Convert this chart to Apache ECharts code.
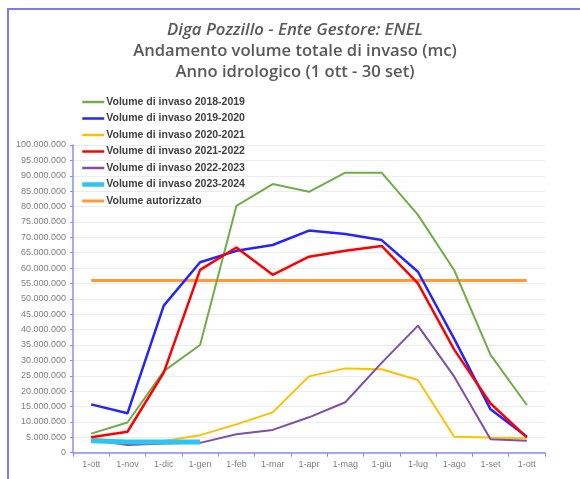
<!DOCTYPE html>
<html><head><meta charset="utf-8">
<script src="https://cdn.jsdelivr.net/npm/echarts@6/dist/echarts.min.js"></script>
<style>
html,body{margin:0;padding:0;background:#fff;}
#wrap{position:relative;width:580px;height:479px;overflow:hidden;}
#frame{position:absolute;left:7px;top:8px;width:600px;height:500px;border-top:2px solid #7a7af4;border-left:2px solid #7a7af4;box-sizing:border-box;}
#chart{position:absolute;left:0;top:0;width:580px;height:479px;}
</style></head>
<body><div id="wrap"><div id="frame"></div><div id="chart"></div></div>
<script>
const categories = ['1-ott','1-nov','1-dic','1-gen','1-feb','1-mar','1-apr','1-mag','1-giu','1-lug','1-ago','1-set','1-ott'];
const yTicks = [0,5000000,10000000,15000000,20000000,25000000,30000000,35000000,40000000,45000000,50000000,55000000,60000000,65000000,70000000,75000000,80000000,85000000,90000000,95000000,100000000];
const v2018 = [6200000, 9800000, 26500000, 35000000, 80200000, 87300000, 84800000, 91000000, 91000000, 77300000, 59300000, 31800000, 15500000];
const v2019 = [15700000, 12800000, 47800000, 61900000, 65600000, 67500000, 72200000, 71100000, 69100000, 58800000, 37000000, 14100000, 5200000];
const v2020 = [4600000, 3600000, 3800000, 5700000, 9200000, 13100000, 24800000, 27400000, 27100000, 23600000, 5200000, 4900000, 4700000];
const v2021 = [5000000, 6800000, 26000000, 59400000, 66700000, 57800000, 63700000, 65600000, 67200000, 55000000, 33500000, 16000000, 5000000];
const v2022 = [4200000, 2500000, 3000000, 3200000, 6000000, 7400000, 11500000, 16400000, 29200000, 41300000, 24700000, 4400000, 3900000];
const v2023 = [3900000, 3500000, 3500000, 3500000, null, null, null, null, null, null, null, null, null];
const vAut = [56000000, 56000000, 56000000, 56000000, 56000000, 56000000, 56000000, 56000000, 56000000, 56000000, 56000000, 56000000, 56000000];
const names = ['Volume di invaso 2018-2019','Volume di invaso 2019-2020','Volume di invaso 2020-2021','Volume di invaso 2021-2022','Volume di invaso 2022-2023','Volume di invaso 2023-2024','Volume autorizzato'];
const colors = ['#70ad47','#2424ff','#ffc000','#ff0000','#7e4fa6','#2ec4f2','#ff9a3c'];
const widths = [2,2.5,2,2.5,2,5,3];
const values = [v2018,v2019,v2020,v2021,v2022,v2023,vAut];

function fmt(n){ return String(n).replace(/\B(?=(\d{3})+(?!\d))/g,'.'); }

const chart = echarts.init(document.getElementById('chart'), null, {renderer:'canvas'});
const series = names.map((n,i)=>({
  name:n, type:'line', data:values[i], symbol:'none', smooth:false,
  lineStyle:{color:colors[i], width:widths[i]}, itemStyle:{color:colors[i]},
  z: i===6 ? 1 : (i===5 ? 3 : 2),
  connectNulls:false, animation:false
}));
chart.setOption({
  animation:false,
  color:colors,
  title:{
    text:'{a|Diga Pozzillo - Ente Gestore: ENEL}\n{b|Andamento volume totale di invaso (mc)}\n{b|Anno idrologico (1 ott - 30 set)}',
    left:295, top:19.5, textAlign:'center', padding:0,
    textStyle:{
      rich:{
        a:{fontFamily:'Open Sans',fontSize:16.8,fontStyle:'italic',fontWeight:600,color:'#595959',lineHeight:21,align:'center'},
        b:{fontFamily:'Open Sans',fontSize:16.6,fontWeight:600,color:'#595959',lineHeight:21,align:'center'}
      }
    }
  },
  legend:{
    orient:'vertical', left:80, top:96.5, padding:0, itemWidth:22, itemHeight:10, itemGap:5.5,
    itemStyle:{opacity:0},
    textStyle:{fontFamily:'Liberation Sans',fontSize:10.5,fontWeight:'bold',color:'#404040',lineHeight:10,height:10,padding:[0,0,0,-3]},
    data:names.map((n,i)=>({name:n, lineStyle:{color:colors[i], width:widths[i]===5?4.5:(widths[i]===3?3:2.5)}}))
  },
  grid:{left:73, right:35, top:145, bottom:26.3, containLabel:false},
  xAxis:{
    type:'category', data:categories, boundaryGap:true,
    axisLine:{lineStyle:{color:'#8c8cf2',width:1.5}},
    axisTick:{show:true, length:4, lineStyle:{color:'#8c8cf2'}},
    axisLabel:{fontFamily:'Liberation Sans',fontSize:9,color:'#7f7f7f',margin:7,interval:0},
    splitLine:{show:false}
  },
  yAxis:{
    type:'value', min:0, max:100000000, interval:5000000,
    axisLine:{show:true, lineStyle:{color:'#8c8cf2',width:1.5}},
    axisTick:{show:true, length:3, inside:false, lineStyle:{color:'#8c8cf2'}},
    axisLabel:{fontFamily:'Liberation Sans',fontSize:9,color:'#7f7f7f',margin:7,formatter:v=>fmt(v)},
    splitLine:{show:true, lineStyle:{color:'#ececec',width:1}}
  },
  series:series
});
</script></body></html>
